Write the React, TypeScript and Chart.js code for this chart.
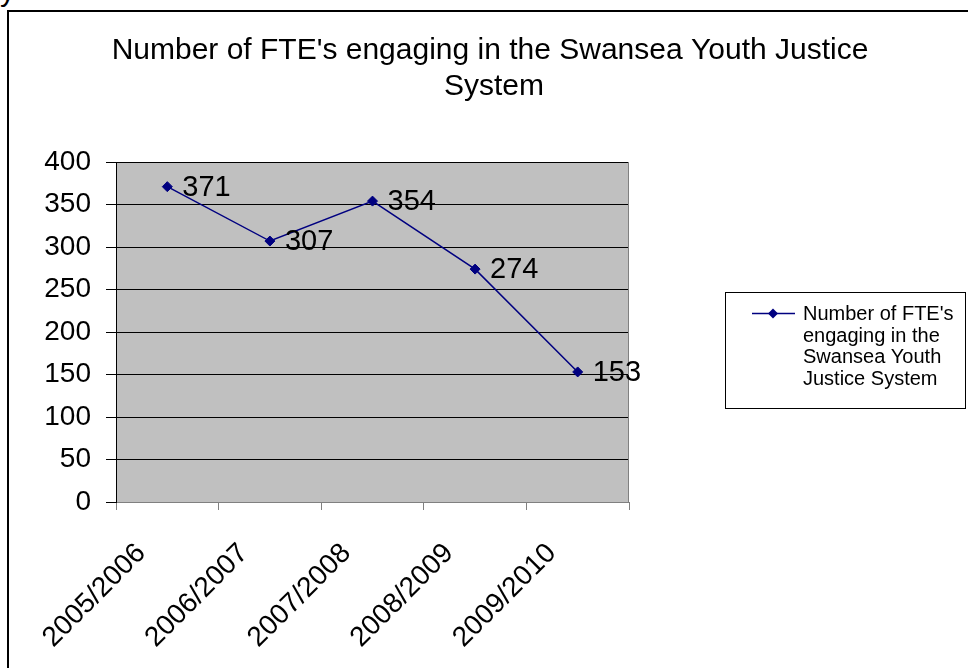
import React, { useEffect, useRef } from 'react';
import { Chart, registerables } from 'chart.js';

Chart.register(...registerables);

const categories = ['2005/2006', '2006/2007', '2007/2008', '2008/2009', '2009/2010'];
const fteValues = [371, 307, 354, 274, 153];
const seriesName = "Number of FTE's engaging in the Swansea Youth Justice System";
const titleLines = ["Number of FTE's engaging in the Swansea Youth Justice", 'System'];
const legendLines = ["Number of FTE's", 'engaging in the', 'Swansea Youth', 'Justice System'];
const yMin = 0;
const yMax = 400;
const yStep = 50;

const FONT = '"Liberation Sans", Arial, Helvetica, sans-serif';
const NAVY = '#000080';
const PLOT_BG = '#C0C0C0';
const AXIS_GRAY = '#808080';

const decorPlugin = {
  id: 'decor',
  beforeDraw(chart: any) {
    const { ctx, chartArea } = chart;
    ctx.save();
    ctx.fillStyle = PLOT_BG;
    ctx.fillRect(chartArea.left, chartArea.top, chartArea.right - chartArea.left, chartArea.bottom - chartArea.top);
    ctx.restore();
  },
  afterDraw(chart: any) {
    const { ctx, chartArea } = chart;
    ctx.save();
    // right border of plot area
    ctx.strokeStyle = AXIS_GRAY;
    ctx.lineWidth = 1;
    ctx.beginPath();
    const rx = Math.round(chartArea.right) - 0.5;
    ctx.moveTo(rx, chartArea.top);
    ctx.lineTo(rx, chartArea.bottom);
    ctx.stroke();

    // data labels
    const meta = chart.getDatasetMeta(0);
    ctx.fillStyle = '#000';
    ctx.font = `29px ${FONT}`;
    ctx.textAlign = 'left';
    ctx.textBaseline = 'middle';
    meta.data.forEach((pt: any, i: number) => {
      ctx.fillText(String(fteValues[i]), pt.x + 15, pt.y + 1);
    });

    // title
    ctx.font = `30px ${FONT}`;
    ctx.textAlign = 'center';
    ctx.textBaseline = 'alphabetic';
    ctx.fillText(titleLines[0], 490, 59);
    ctx.fillText(titleLines[1], 494, 94.5);

    // legend
    ctx.strokeStyle = '#000';
    ctx.lineWidth = 1;
    ctx.strokeRect(725.5, 292.5, 240, 116);
    ctx.strokeStyle = NAVY;
    ctx.lineWidth = 1.5;
    ctx.beginPath();
    ctx.moveTo(752, 313.5);
    ctx.lineTo(795, 313.5);
    ctx.stroke();
    ctx.fillStyle = NAVY;
    ctx.beginPath();
    ctx.moveTo(773, 308.5);
    ctx.lineTo(778, 313.5);
    ctx.lineTo(773, 318.5);
    ctx.lineTo(768, 313.5);
    ctx.closePath();
    ctx.fill();
    ctx.fillStyle = '#000';
    ctx.font = `20px ${FONT}`;
    ctx.textAlign = 'left';
    legendLines.forEach((line, i) => {
      ctx.fillText(line, 803, 320 + i * 21.7);
    });
    ctx.restore();
  },
};

export default function App() {
  const canvasRef = useRef<HTMLCanvasElement | null>(null);

  useEffect(() => {
    if (!canvasRef.current) return;
    const chart = new Chart(canvasRef.current, {
      type: 'line',
      data: {
        labels: categories,
        datasets: [
          {
            label: seriesName,
            data: fteValues,
            borderColor: NAVY,
            backgroundColor: NAVY,
            borderWidth: 1.5,
            pointStyle: 'rectRot',
            pointRadius: 5,
            pointBorderWidth: 1,
            pointBackgroundColor: NAVY,
            pointBorderColor: NAVY,
            tension: 0,
            fill: false,
          },
        ],
      },
      options: {
        responsive: false,
        animation: false,
        devicePixelRatio: 1,
        layout: { padding: { left: 0, top: 162, right: 339, bottom: 0 } },
        plugins: {
          legend: { display: false },
          tooltip: { enabled: false },
          title: { display: false },
        },
        scales: {
          x: {
            type: 'category',
            offset: true,
            grid: {
              offset: true,
              drawOnChartArea: false,
              drawTicks: true,
              tickLength: 8,
              color: AXIS_GRAY,
            },
            border: { color: AXIS_GRAY, width: 1 },
            ticks: {
              color: '#000',
              font: { family: FONT, size: 28, lineHeight: 1.2 },
              minRotation: 45,
              maxRotation: 45,
              autoSkip: false,
              padding: 27,
              labelOffset: -26,
            },
            afterFit: (scale: any) => {
              scale.height = 166;
            },
          },
          y: {
            min: yMin,
            max: yMax,
            grid: {
              color: (c: any) => (c.tick && c.tick.value === 0 ? AXIS_GRAY : '#000'),
              tickColor: '#000',
              tickLength: 10,
              drawTicks: true,
            },
            border: { color: '#000', width: 1 },
            ticks: {
              stepSize: yStep,
              color: '#000',
              font: { family: FONT, size: 28 },
              padding: 15,
            },
            afterFit: (scale: any) => {
              scale.width = 116;
            },
          },
        },
      },
      plugins: [decorPlugin],
    } as any);
    return () => chart.destroy();
  }, []);

  return (
    <div style={{ position: 'fixed', left: 0, top: 0, width: 968, height: 668, overflow: 'hidden', background: '#fff' }}>
      <div
        style={{
          position: 'absolute',
          left: 0,
          top: -24,
          fontFamily: FONT,
          fontSize: 30,
          lineHeight: '30px',
          color: '#000',
        }}
      >
        y
      </div>
      <div
        style={{
          position: 'absolute',
          left: 7,
          top: 10,
          width: 1200,
          height: 1000,
          borderLeft: '2px solid #000',
          borderTop: '2px solid #000',
        }}
      />
      <canvas
        ref={canvasRef}
        width={968}
        height={668}
        style={{ position: 'absolute', left: 0, top: 0, width: 968, height: 668, display: 'block' }}
      />
    </div>
  );
}
